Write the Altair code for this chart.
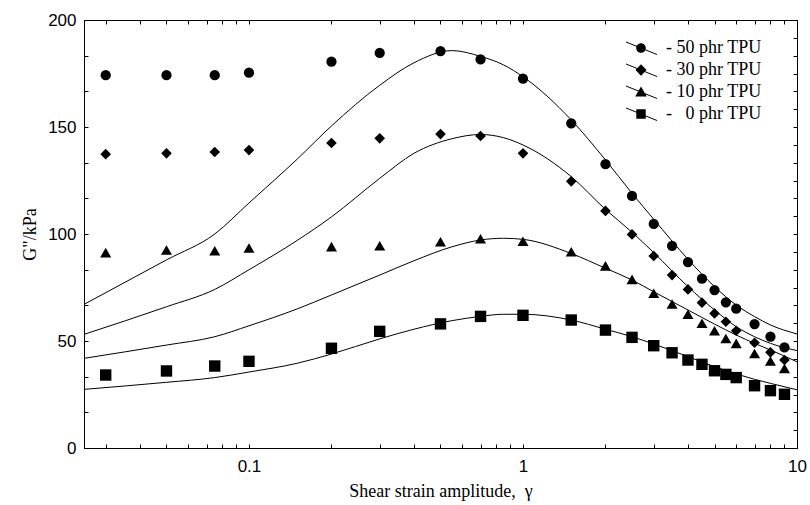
import altair as alt
import pandas as pd

# measured points
x_pts = [0.03, 0.05, 0.075, 0.1, 0.2, 0.3, 0.5, 0.7, 1, 1.5, 2, 2.5, 3, 3.5, 4, 4.5, 5, 5.5, 6, 7, 8, 9]
g50 = [174.2, 174.2, 174.2, 175.4, 180.5, 184.6, 185.5, 181.6, 172.6, 151.7, 132.6, 117.8, 104.7, 94.5, 86.9, 79.1, 73.8, 68.1, 65.1, 57.9, 52.0, 47.0]
g30 = [137.3, 137.7, 138.3, 139.2, 142.5, 144.7, 146.7, 145.8, 137.7, 124.6, 110.8, 99.8, 89.7, 80.8, 74.1, 67.9, 62.9, 59.0, 54.8, 49.2, 44.7, 41.1]
g10 = [91.3, 92.5, 92.2, 93.5, 94.1, 94.5, 96.4, 97.8, 96.6, 91.7, 85.1, 78.8, 72.3, 67.3, 62.5, 58.3, 54.8, 51.2, 48.9, 44.2, 40.7, 37.2]
g0 = [34.1, 36.0, 38.3, 40.5, 46.6, 54.5, 58.0, 61.5, 62.0, 59.8, 55.1, 51.7, 47.8, 44.5, 41.1, 39.1, 36.1, 34.4, 32.9, 29.1, 26.8, 25.1]

# model curves
x_fit = [0.025, 0.05, 0.075, 0.1, 0.15, 0.2, 0.3, 0.4, 0.55, 0.7, 0.85, 1, 1.5, 2, 2.5, 3, 4, 5, 6, 7, 8, 10]
f50 = [67.1, 87.9, 100.0, 114.5, 135.0, 150.5, 169.5, 180.0, 185.7, 183.0, 179.0, 173.5, 153.3, 134.6, 119.0, 106.9, 88.2, 75.4, 66.8, 61.4, 57.5, 53.3]
f30 = [53.1, 66.0, 74.1, 83.3, 97.0, 108.0, 126.0, 137.7, 144.5, 146.5, 145.0, 141.6, 126.8, 111.5, 100.8, 91.3, 75.4, 64.5, 56.7, 52.0, 48.9, 45.5]
f10 = [41.9, 48.1, 52.0, 57.1, 65.0, 71.5, 80.8, 87.5, 94.0, 97.2, 98.0, 97.5, 90.9, 84.0, 78.5, 73.0, 64.5, 57.9, 52.8, 48.9, 45.8, 40.3]
f0 = [27.4, 30.7, 32.9, 35.5, 39.6, 43.9, 51.0, 55.5, 59.5, 61.5, 62.5, 62.5, 59.8, 55.5, 52.0, 48.6, 42.7, 38.0, 34.6, 32.1, 30.2, 27.2]

series = ["- 50 phr TPU", "- 30 phr TPU", "- 10 phr TPU", "-\u00a0\u00a0\u00a00 phr TPU"]
shapes = ["circle", "diamond", "triangle-up", "square"]
sizes = [105, 130, 150, 95]
# legend glyphs: a thin slanted bar (drawn as a filled sliver) through the marker
bar = "M-1.5,-0.65L1.6,0.6L1.6,0.7L-1.5,-0.55Z"
legend_paths = [
    bar + "M-0.48,0A0.48,0.48 0 1,1 0.48,0A0.48,0.48 0 1,1 -0.48,0Z",
    bar + "M0,-0.58L0.55,0L0,0.58L-0.55,0Z",
    bar + "M0,-0.55L0.58,0.45L-0.58,0.45Z",
    bar + "M-0.47,-0.47L0.47,-0.47L0.47,0.47L-0.47,0.47Z",
]

# axis tick positions
x_tick_vals = [0.03, 0.04, 0.05, 0.06, 0.07, 0.08, 0.09, 0.1, 0.2, 0.3, 0.4, 0.5, 0.6, 0.7, 0.8, 0.9, 1,
               2, 3, 4, 5, 6, 7, 8, 9, 10]
x_label_vals = [0.1, 1, 10]
y_label_vals = [0, 50, 100, 150, 200]
y_tick_left = [i * 50 / 3 for i in range(13)]
y_tick_right = [i * 50 / 6 for i in range(25)]

pts_rows, fit_rows = [], []
for s, ys in zip(series, [g50, g30, g10, g0]):
    for x, y in zip(x_pts, ys):
        pts_rows.append({"x": x, "y": y, "series": s})
for s, ys in zip(series, [f50, f30, f10, f0]):
    for x, y in zip(x_fit, ys):
        fit_rows.append({"x": x, "y": y, "series": s})
pts = pd.DataFrame(pts_rows)
fit = pd.DataFrame(fit_rows)

W, H = 713, 428
xscale = alt.Scale(type="log", domain=[0.025, 10], nice=False)
yscale = alt.Scale(domain=[0, 200], nice=False)

common = dict(grid=False, tickColor="black", domainColor="black")

x_axis_main = alt.Axis(
    values=x_label_vals, format="~g", ticks=False,
    labelOverlap=False, labelFlush=False,
    labelFont="Liberation Sans", labelFontSize=17, labelColor="black", labelPadding=10,
    title="Shear strain amplitude,\u00a0\u00a0γ", titleFont="Liberation Serif", titleFontSize=18,
    titleFontWeight="normal", titleColor="black", titlePadding=8, **common,
)
y_axis_main = alt.Axis(
    values=y_label_vals, ticks=False,
    labelFont="Liberation Sans", labelFontSize=17, labelColor="black", labelPadding=8,
    title='G"/kPa', titleFont="Liberation Serif", titleFontSize=18,
    titleFontWeight="normal", titleColor="black", titlePadding=8, **common,
)
# inward ticks on bottom / left edges
x_axis_in_bottom = alt.Axis(orient="top", offset=-H, values=x_tick_vals, labels=False, domain=False,
                            tickSize=4, title=None, **common)
y_axis_in_left = alt.Axis(orient="right", offset=-W, values=y_tick_left, labels=False, domain=False,
                          tickSize=4, title=None, **common)
# inward ticks on top / right edges
x_axis_in_top = alt.Axis(orient="bottom", offset=-H, values=x_tick_vals, labels=False, domain=False,
                         tickSize=4, title=None, **common)
y_axis_in_right = alt.Axis(orient="left", offset=-W, values=y_tick_right, labels=False, domain=False,
                           tickSize=4, title=None, **common)

lines = alt.Chart(fit).mark_line(color="black", strokeWidth=1, interpolate="monotone").encode(
    x=alt.X("x:Q", scale=xscale, axis=x_axis_main),
    y=alt.Y("y:Q", scale=yscale, axis=y_axis_main),
    detail="series:N",
)

points = alt.Chart(pts).mark_point(filled=True, color="black", opacity=1).encode(
    x=alt.X("x:Q", scale=xscale, axis=x_axis_in_bottom),
    y=alt.Y("y:Q", scale=yscale, axis=y_axis_in_left),
    shape=alt.Shape("series:N", scale=alt.Scale(domain=series, range=shapes), legend=None),
    size=alt.Size("series:N", scale=alt.Scale(domain=series, range=sizes), legend=None),
)

legend_layer = alt.Chart(pts).mark_point(filled=True, color="black", opacity=1).encode(
    x=alt.X("x:Q", scale=xscale, axis=x_axis_in_top),
    y=alt.Y("y:Q", scale=yscale, axis=y_axis_in_right),
    shape=alt.Shape(
        "series:N",
        scale=alt.Scale(domain=series, range=legend_paths),
        legend=alt.Legend(
            orient="none", legendX=546, legendY=17, title=None, padding=0,
            symbolSize=400, symbolFillColor="black", symbolOpacity=1,
            labelFont="Liberation Serif", labelFontSize=18, labelColor="black",
            labelOffset=14, rowPadding=1,
        ),
    ),
).transform_filter("datum.x < 0")

chart = alt.layer(lines, points, legend_layer).resolve_scale(
    shape="independent", size="independent"
).resolve_axis(x="independent", y="independent").properties(
    width=W, height=H,
    padding={"left": 84, "top": 20, "right": 13, "bottom": 57},
    autosize=alt.AutoSizeParams(type="none"),
    background="white",
).configure_view(stroke="black", strokeWidth=1)

chart.save("out.html", embed_options={"renderer": "svg", "actions": False})
